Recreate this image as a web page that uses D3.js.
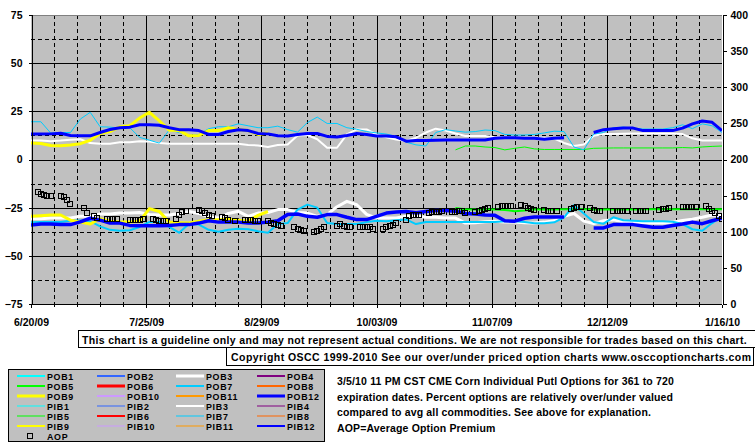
<!DOCTYPE html>
<html><head><meta charset="utf-8">
<script src="https://cdn.jsdelivr.net/npm/d3@7"></script>
<style>
html,body{margin:0;padding:0;background:#fff;overflow:hidden}
svg{display:block}
text{font-family:"Liberation Sans",Arial,sans-serif;font-weight:bold;font-size:10.5px;fill:#000}
</style></head><body>
<svg id="chart" width="755" height="446"></svg>
<script>
// ---------- DATA ----------
const dates = ["6/20/09","6/23/09","6/26/09","6/29/09","7/2/09","7/5/09","7/8/09","7/11/09","7/14/09","7/17/09",
"7/20/09","7/23/09","7/26/09","7/29/09","8/1/09","8/4/09","8/7/09","8/10/09","8/13/09","8/16/09",
"8/19/09","8/22/09","8/25/09","8/28/09","8/31/09","9/3/09","9/6/09","9/9/09","9/12/09","9/15/09",
"9/18/09","9/21/09","9/24/09","9/27/09","9/30/09","10/3/09","10/6/09","10/9/09","10/12/09","10/15/09",
"10/18/09","10/21/09","10/24/09","10/27/09","10/30/09","11/2/09","11/5/09","11/8/09","11/11/09","11/14/09",
"11/17/09","11/20/09","11/23/09","11/26/09","11/29/09","12/2/09","12/5/09","12/8/09","12/11/09","12/14/09",
"12/17/09","12/20/09","12/23/09","12/26/09","12/29/09","1/1/10","1/4/10","1/7/10","1/10/10","1/13/10","1/16/10"];

// upper group (PIB, % over/under)
const pib12 = [13.2,13.2,13.3,13.6,12.5,12.3,12.3,14,15.6,16.5,16.8,18,18,17.8,16.5,15.5,15.5,15,13,13,14.5,15.4,15,13.5,13.3,12.3,12.2,13,13.5,13.5,12,11.7,12.5,13.5,13,12.2,12.2,11.8,9.5,9.9,9.9,10,10.1,10.1,10.1,10.1,10.1,11,11.3,11.3,11,11,10.5,11,11.3,null,null,14,15.5,16,16.3,16.3,15,15,15,15,16.3,18.5,20,19.3,15];
const pib7 = [19.6,19.6,13.7,14,14,21,24.5,17,16.8,16.3,16.5,11.5,10,8.5,15.3,14,12.5,13,16,17,17,18.5,17.5,16.5,16.5,17.3,15.5,14.2,19.2,22,18.7,18.7,16.5,15.7,14.5,13.8,13.2,12,9,7.6,7,14,15.5,14.8,14.2,14.5,15.3,15,13,12.7,12.7,13,13.8,14.7,14.5,6.5,5,13.2,14,16.5,16.8,16.3,15.8,15.8,15.8,16.5,18,16,18.5,17.5,14];
const pib9 = [8.5,8.3,7.3,7.2,7.5,8.2,10,13.5,14.5,17,17.5,21.5,24.5,20,15.2,15,12.3,12.5,15,15,16.5,15.5,15,13,13.8,
null,null,null,null,null,null,null,null,null,null,null,null,null,null,null,null,null,null,null,null,null,null,null,null,null,null,null,null,null,null,null,null,null,null,null,null,null,null,null,null,null,null,null,null,null,null];
const pib3 = [9.9,9.8,9.5,9.8,10.3,10.5,8.5,8.2,8.2,8.9,9,9.5,9.3,8.5,8.2,8.2,8.2,8.2,8.2,8.2,8.2,8.2,7.5,7.3,6.5,7.5,7.8,12.5,12.7,10.5,6.1,6.1,13,15.6,15.6,13,11.5,10.4,9.6,11.3,14,16,15,13.5,12.2,12.2,12.2,11.5,11.3,11.3,11.3,11.3,11.3,10.8,8.6,7,7.8,12.3,13.2,13.2,13.4,13.5,13.5,13.5,13.5,13.5,13.2,11,9.9,9.9,9.9];
const pib5 = [null,null,null,null,null,null,null,null,null,null,null,null,null,null,null,null,null,null,null,null,null,null,null,null,null,null,null,null,null,null,null,null,null,null,null,null,null,null,null,null,null,null,null,
5,7,7,6.5,6.2,5,5.8,6.5,5.5,5.2,5.2,5.2,5.2,5.2,5.8,5.9,6,6,6,6,6,6,6,6.2,6,6.5,6.8,7];

// lower group (POB)
const pob12 = [-34,-33.5,-33.5,-33.8,-33.8,-32.4,-30.5,-31.5,-33,-33,-34.2,-34.4,-34.4,-34.4,-34.3,-33.8,-33.8,-33,-31.8,-32.5,-32.5,-32.5,-33,-33,-32.5,-31.8,-28.5,-28.3,-29.5,-30,-28.6,-28.6,-30,-31.2,-31.2,-29.5,-27.8,-27.3,-27,-27.6,-27,-26.5,-26.5,-26.8,-28,-28.3,-28.8,-29,-31.8,-32,-30.5,-29.8,-29.8,-29.8,-29.8,null,null,-35.5,-35.5,-33.8,-33.8,-33.8,-34.5,-35.2,-35.2,-34.3,-33.5,-32.5,-33.3,-31.8,-30.4];
const pob7 = [-32.6,-32.4,-32.4,-32.4,-31.8,-31.6,-32,-34.7,-36.5,-37,-36.7,-35,-32.4,-32.4,-35,-38,-33.5,-33.8,-36.5,-37.5,-36.5,-35.9,-36.2,-37.2,-38,-33.5,-33,-26,-23.4,-25,-33,-33.5,-33.5,-33.5,-32.5,-31.8,-32,-31.5,-31.1,-33.5,-32.4,-32.4,-32.4,-32.4,-32.4,-32.4,-32.4,-32.4,-32.1,-32.1,-32.5,-33.1,-33.1,-32.6,-30,-23.7,-28,-32.4,-33.3,-30,-31.5,-31.8,-32,-32.1,-32.1,-32.3,-33.5,-36.2,-37,-33,-29.5];
const pob9 = [-29.5,-29.2,-28.8,-28.8,-31.5,-32.5,-33.5,-30.7,-32,-32.5,-32.5,-32,-25.5,-27,-32.5,-32.8,-33,-32,-31.3,-31.3,-31,-31.5,-32,-29,-27,
null,null,null,null,null,null,null,null,null,null,null,null,null,null,null,null,null,null,null,null,null,null,null,null,null,null,null,null,null,null,null,null,null,null,null,null,null,null,null,null,null,null,null,null,null,null];
const pob3 = [-30.7,-30.7,-30.4,-30.4,-30.4,-29.5,-29.5,-28.3,-28.3,-27.8,-27.8,-27.5,-28.5,-28.8,-28.8,-28,-27,-28,-29.8,-30.4,-28,-26.9,-29.5,-27.8,-27.5,-26,-26,-27.5,-27.8,-29.5,-28.6,-24.5,-21.7,-23.5,-28.5,-30.4,-30.4,-30.4,-29.5,-29.5,-30,-30,-30.4,-30.4,-33,-32.8,-32.3,-32,-32.4,-32.4,-32.8,-33,-32.5,-31.8,-29.5,-28,-32,-33.3,-31.8,-31.3,-32.3,-32.5,-32.7,-33,-33,-32.5,-31.7,-31,-30,-28.8,-29];
const pob5 = [null,null,null,null,null,null,null,null,null,null,null,null,null,null,null,null,null,null,null,null,null,null,null,null,null,null,null,null,null,null,null,null,null,null,null,null,null,null,null,null,null,null,null,
-25.2,-25.8,-26,-26,-26,-26.2,-26.8,-26.5,-26,-26,-26,-25.8,-25.8,-25.8,-26,-26,-26,-26,-26,-25.8,-25.8,-25.8,-25.8,-25.8,-25.8,-25.8,-25.8,-25.8];

// AOP (right axis)
const aopDates = ["6/22/09","6/23/09","6/24/09","6/25/09","6/26/09","6/29/09","6/30/09","7/1/09","7/2/09","7/6/09",
"7/7/09","7/9/09","7/10/09","7/13/09","7/14/09","7/15/09","7/16/09","7/20/09","7/21/09","7/22/09",
"7/23/09","7/24/09","7/27/09","7/28/09","7/29/09","7/30/09","7/31/09","8/3/09","8/4/09","8/5/09",
"8/6/09","8/10/09","8/11/09","8/12/09","8/13/09","8/14/09","8/17/09","8/18/09","8/19/09","8/21/09",
"8/24/09","8/25/09","8/26/09","8/27/09","8/28/09","8/31/09","9/1/09","9/2/09","9/3/09","9/4/09",
"9/8/09","9/9/09","9/10/09","9/11/09","9/14/09","9/15/09","9/16/09","9/17/09","9/21/09","9/22/09",
"9/23/09","9/24/09","9/25/09","9/28/09","9/29/09","9/30/09","10/1/09","10/2/09","10/5/09","10/6/09",
"10/7/09","10/8/09","10/9/09","10/12/09","10/13/09","10/14/09","10/15/09","10/16/09","10/19/09","10/20/09",
"10/21/09","10/22/09","10/23/09","10/26/09","10/27/09","10/28/09","10/29/09","10/30/09","11/2/09","11/3/09",
"11/4/09","11/5/09","11/6/09","11/9/09","11/10/09","11/11/09","11/12/09","11/13/09","11/16/09","11/17/09",
"11/18/09","11/19/09","11/20/09","11/23/09","11/24/09","11/25/09","11/27/09","12/1/09","12/2/09","12/3/09",
"12/4/09","12/7/09","12/8/09","12/9/09","12/10/09","12/14/09","12/15/09","12/16/09","12/17/09","12/18/09",
"12/21/09","12/22/09","12/23/09","12/24/09","12/28/09","12/29/09","12/30/09","12/31/09","1/4/10","1/5/10",
"1/6/10","1/7/10","1/8/10","1/11/10","1/12/10","1/13/10","1/14/10","1/15/10","1/16/10"];
const aopValues = [155.0,152.2,151.3,149.9,149.9,149.9,148.5,144.4,138.8,132.9,
126.0,121.4,119.0,118.1,118.1,118.1,118.1,116.7,116.7,116.7,
116.7,118.1,118.1,116.7,115.3,115.3,115.3,118.1,122.8,126.9,
129.1,130.5,129.1,126.0,122.8,121.4,120.4,119.0,116.7,115.3,
116.7,116.7,116.7,115.3,115.3,114.5,112.1,110.7,108.9,107.5,
106.2,103.8,102.0,100.6,99.2,101.5,103.8,106.2,108.4,110.7,
108.4,106.2,106.2,106.2,106.2,106.2,106.2,104.2,104.2,106.2,
107.5,109.8,112.1,116.7,121.4,122.8,123.6,123.6,126.0,126.9,
126.9,127.3,128.3,127.3,127.3,128.3,129.1,126.0,127.3,128.3,
130.5,131.9,132.9,133.8,135.2,135.2,135.2,135.2,137.4,136.1,
132.9,131.5,130.5,130.5,128.3,128.3,129.1,131.9,132.9,133.8,
133.8,132.9,130.5,128.3,128.3,129.1,129.1,129.1,129.1,129.1,
129.1,129.1,129.1,129.1,130.5,131.5,131.5,132.9,133.8,133.8,
134.7,134.7,134.7,135.2,131.9,129.1,126.0,121.4,118.1];

const leftTicks = [75,50,25,0,-25,-50,-75];
const rightTicks = [0,50,100,150,200,250,300,350,400];
const xTickLabels = ["6/20/09","7/25/09","8/29/09","10/03/09","11/07/09","12/12/09","1/16/10"];

const legendNames = ["POB1","POB2","POB3","POB4","POB5","POB6","POB7","POB8","POB9","POB10","POB11","POB12",
"PIB1","PIB2","PIB3","PIB4","PIB5","PIB6","PIB7","PIB8","PIB9","PIB10","PIB11","PIB12"];
const legendColors = ["#00FFFF","#3366FF","#FFFFFF","#800080","#00FF00","#FF0000","#00CCFF","#FF6600","#FFFF00","#CC99FF","#FF9900","#0000FF",
"#00FFFF","#3366FF","#FFFFFF","#800080","#00FF00","#FF0000","#00CCFF","#FF6600","#FFFF00","#CC99FF","#FF9900","#0000FF"];
const legendWidths = [2,2,3,2,2,3,2,2,3,2,2,3, 1,1,2,1,1,2,1,1,2,1,1,2];

const disclaimer = "This chart is a guideline only and may not represent actual conditions. We are not responsible for trades based on this chart.";
const copyright = "Copyright OSCC 1999-2010 See our over/under priced option charts www.osccoptioncharts.com";
const noteLines = ["3/5/10 11 PM CST CME Corn Individual Putl Options for 361 to 720",
"expiration dates. Percent options are relatively over/under valued",
"compared to avg all commodities. See above for explanation.",
"AOP=Average Option Premium"];

// ---------- DRAW ----------
const parse = d3.timeParse("%m/%d/%y");
const svg = d3.select("#chart");
const L = 31, R = 722, T = 15, B = 304;
const start = parse(xTickLabels[0]), end = parse(xTickLabels[xTickLabels.length-1]);
const x = d3.scaleTime().domain([start, end]).range([L, R]);
const yL = d3.scaleLinear().domain([-75, 75]).range([B, T]);
const yR = d3.scaleLinear().domain([0, 400]).range([B, T]);

svg.append("rect").attr("x", L).attr("y", T).attr("width", R-L).attr("height", B-T).attr("fill", "#C0C0C0");

// grid
const g = svg.append("g").attr("shape-rendering", "crispEdges");
const solidY = leftTicks.filter(v => v > -75 && v < 75);
const dashY = d3.pairs(leftTicks).map(p => (p[0]+p[1])/2);
g.selectAll(".hs").data(solidY).join("line").attr("x1", L).attr("x2", R)
 .attr("y1", d => Math.round(yL(d))+0.5).attr("y2", d => Math.round(yL(d))+0.5).attr("stroke", "#000");
g.selectAll(".hd").data(dashY).join("line").attr("x1", L).attr("x2", R)
 .attr("y1", d => Math.round(yL(d))+0.5).attr("y2", d => Math.round(yL(d))+0.5).attr("stroke", "#000").attr("stroke-dasharray", "4,3");
const weekDays = d3.range(7, 210, 7);
g.selectAll(".v").data(weekDays).join("line")
 .attr("x1", d => Math.round(x(d3.timeDay.offset(start, d)))+0.5)
 .attr("x2", d => Math.round(x(d3.timeDay.offset(start, d)))+0.5)
 .attr("y1", T).attr("y2", B).attr("stroke", "#000")
 .attr("stroke-dasharray", d => d % 35 === 0 ? null : "4,3");

// lines
svg.append("clipPath").attr("id", "clip").append("rect").attr("x", L).attr("y", T).attr("width", R-L).attr("height", B-T);
const dts = dates.map(parse);
const line = d3.line().defined(d => d[1] != null).x(d => x(d[0])).y(d => yL(d[1]));
const series = [
  {v: pob3, c: "#FFFFFF", w: 3},
  {v: pob5, c: "#00FF00", w: 2},
  {v: pob7, c: "#00CCFF", w: 2},
  {v: pob9, c: "#FFFF00", w: 3},
  {v: pob12, c: "#0000FF", w: 3.5},
  {v: pib3, c: "#FFFFFF", w: 2},
  {v: pib5, c: "#00FF00", w: 1},
  {v: pib7, c: "#00CCFF", w: 1},
  {v: pib9, c: "#FFFF00", w: 3},
  {v: pib12, c: "#0000FF", w: 3}
];
const lg = svg.append("g").attr("clip-path", "url(#clip)");
series.forEach(s => {
  lg.append("path").datum(dts.map((d, i) => [d, s.v[i]])).attr("d", line)
    .attr("fill", "none").attr("stroke", s.c).attr("stroke-width", s.w).attr("stroke-linejoin", "round");
});
lg.selectAll(".aop").data(aopDates.map((d, i) => [parse(d), aopValues[i]])).join("rect")
  .attr("x", d => Math.round(x(d[0])) - 3 + 0.5).attr("y", d => Math.round(yR(d[1])) - 3 + 0.5)
  .attr("width", 5).attr("height", 5).attr("fill", "none").attr("stroke", "#000").attr("stroke-width", 1);

// borders / axes
svg.append("line").attr("x1", L).attr("x2", R).attr("y1", T+0.5).attr("y2", T+0.5).attr("stroke", "#808080");
const axL = svg.append("g").attr("transform", `translate(${L+0.5},0)`)
  .call(d3.axisLeft(yL).tickValues(leftTicks).tickSize(3).tickPadding(6).tickFormat(d3.format("d")));
const axR = svg.append("g").attr("transform", `translate(${R+0.5},0)`)
  .call(d3.axisRight(yR).tickValues(rightTicks).tickSize(4).tickPadding(4).tickFormat(d3.format("d")));
const axB = svg.append("g").attr("transform", `translate(0,${B+0.5})`)
  .call(d3.axisBottom(x).tickValues(xTickLabels.map(parse)).tickSize(3).tickPadding(11)
    .tickFormat((d, i) => xTickLabels[i]));
const axBm = svg.append("g").attr("transform", `translate(0,${B+0.5})`)
  .call(d3.axisBottom(x).tickValues(weekDays.filter(d => d % 35).map(d => d3.timeDay.offset(start, d))).tickSize(2).tickFormat(""));
[axL, axR, axB, axBm].forEach(a => {
  a.attr("font-family", null).attr("font-size", null);
  a.selectAll("line,path").attr("stroke", "#000").attr("shape-rendering", "crispEdges");
});
axB.select(".domain").remove();
axBm.select(".domain").remove();
svg.append("line").attr("x1", L).attr("x2", R).attr("y1", B+0.5).attr("y2", B+0.5).attr("stroke", "#000").attr("shape-rendering", "crispEdges");

// disclaimer boxes
svg.append("rect").attr("x", 78.5).attr("y", 330.5).attr("width", 700).attr("height", 17).attr("fill", "#fff").attr("stroke", "#000");
svg.append("text").attr("x", 82).attr("y", 343.5).attr("letter-spacing", "0.33px").text(disclaimer);
svg.append("rect").attr("x", 226.5).attr("y", 347.5).attr("width", 527).attr("height", 18).attr("fill", "#fff").attr("stroke", "#000");
svg.append("text").attr("x", 231).attr("y", 361).attr("letter-spacing", "0.45px").text(copyright);

// legend
const leg = svg.append("g");
leg.append("rect").attr("x", 8.5).attr("y", 369.5).attr("width", 316).attr("height", 72).attr("fill", "#C0C0C0").attr("stroke", "#000");
const colX = [17, 97, 176, 257];
legendNames.forEach((n, i) => {
  const col = i % 4, row = Math.floor(i / 4);
  const cy = 376 + row * 10;
  leg.append("line").attr("x1", colX[col]).attr("x2", colX[col] + 28).attr("y1", cy).attr("y2", cy)
    .attr("stroke", legendColors[i]).attr("stroke-width", legendWidths[i]);
  leg.append("text").attr("x", colX[col] + 30).attr("y", cy + 3.5)
    .style("font-size", "8.9px").attr("letter-spacing", "0.7px").text(n);
});
leg.append("rect").attr("x", 27.5).attr("y", 433.5).attr("width", 5).attr("height", 5).attr("fill", "none").attr("stroke", "#000");
leg.append("text").attr("x", 47).attr("y", 439.5).style("font-size", "8.9px").attr("letter-spacing", "0.7px").text("AOP");

// note
noteLines.forEach((t, i) => {
  svg.append("text").attr("x", 337).attr("y", 385 + i * 15.6).attr("letter-spacing", "0.15px").text(t);
});
</script>
</body></html>
